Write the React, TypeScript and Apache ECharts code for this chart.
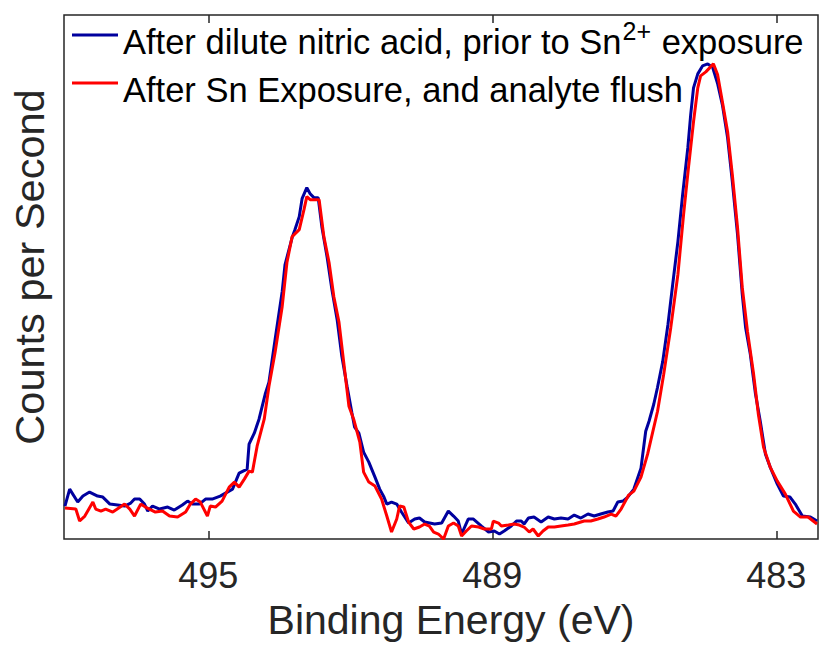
import React, { useEffect, useRef } from "react";
import * as echarts from "echarts";

const seriesNames = [
  "After dilute nitric acid, prior to Sn2+ exposure",
  "After Sn Exposure, and analyte flush",
];

const xTickValues = [483, 489, 495];

const blueEnergy = [
  498.03, 497.93, 497.76, 497.65, 497.51, 497.34, 497.23, 497.08, 496.92, 496.77,
  496.64, 496.56, 496.45, 496.35, 496.28, 496.18, 496.03, 495.86, 495.72, 495.55,
  495.44, 495.34, 495.19, 495.06, 494.92, 494.75, 494.6, 494.49, 494.35, 494.18,
  494.14, 494.03, 493.93, 493.8, 493.72, 493.59, 493.44, 493.38, 493.23, 493.17,
  493.08, 493.02, 492.92, 492.85, 492.77, 492.68, 492.6, 492.49, 492.39, 492.28,
  492.18, 492.07, 491.97, 491.91, 491.82, 491.72, 491.61, 491.48, 491.38, 491.29,
  491.23, 491.13, 491.02, 490.92, 490.77, 490.64, 490.54, 490.43, 490.22, 490.07,
  489.93, 489.82, 489.72, 489.65, 489.51, 489.4, 489.23, 489.08, 488.96, 488.85,
  488.75, 488.6, 488.49, 488.39, 488.33, 488.24, 488.12, 487.97, 487.82, 487.69,
  487.55, 487.4, 487.27, 487.13, 486.98, 486.85, 486.71, 486.56, 486.45, 486.35,
  486.24, 486.14, 486.01, 485.86, 485.76, 485.69, 485.59, 485.51, 485.4, 485.29,
  485.19, 485.08, 484.98, 484.87, 484.81, 484.75, 484.66, 484.56, 484.45, 484.35,
  484.24, 484.14, 484.03, 483.93, 483.82, 483.72, 483.65, 483.55, 483.44, 483.34,
  483.23, 483.13, 482.98, 482.85, 482.71, 482.6, 482.45, 482.28, 482.14,
];

const blueCounts = [
  660, 1000, 740, 860, 940, 860, 840, 700, 680, 660,
  720, 800, 800, 700, 560, 660, 600, 640, 580, 680,
  760, 700, 700, 800, 800, 860, 940, 1000, 1320, 1400,
  1900, 2120, 2400, 2900, 3140, 4000, 4960, 5500, 6040, 6200,
  6460, 6820, 7040, 6920, 6840, 6840, 6240, 5640, 5000, 4400,
  3660, 3060, 2540, 2240, 2120, 1740, 1540, 1240, 1000, 840,
  700, 740, 700, 540, 320, 400, 420, 340, 300, 320,
  560, 460, 360, 100, 400, 400, 260, 140, 160, 100,
  160, 260, 360, 360, 300, 420, 440, 340, 440, 400,
  420, 400, 480, 420, 500, 460, 500, 540, 560, 740,
  760, 840, 1000, 1420, 2160, 2360, 2700, 3040, 3560, 4300,
  5100, 5960, 6900, 7840, 8500, 9040, 9320, 9480, 9520, 9460,
  9120, 8700, 8040, 7160, 6100, 4900, 4240, 3700, 2900, 2360,
  1700, 1440, 1100, 860, 840, 700, 460, 440, 360,
];

const redEnergy = [
  498.03, 497.8, 497.72, 497.61, 497.44, 497.38, 497.27, 497.17, 497.02, 496.77,
  496.66, 496.56, 496.43, 496.33, 496.12, 495.97, 495.82, 495.65, 495.48, 495.38,
  495.27, 495.17, 495.02, 494.96, 494.85, 494.71, 494.56, 494.45, 494.35, 494.24,
  494.14, 494.07, 493.97, 493.82, 493.72, 493.59, 493.44, 493.34, 493.23, 493.08,
  492.98, 492.92, 492.85, 492.75, 492.66, 492.56, 492.45, 492.35, 492.24, 492.14,
  492.03, 491.93, 491.8, 491.72, 491.61, 491.48, 491.34, 491.23, 491.13, 491.02,
  490.96, 490.87, 490.77, 490.66, 490.54, 490.43, 490.33, 490.24, 490.14, 490.03,
  489.93, 489.82, 489.72, 489.65, 489.55, 489.44, 489.29, 489.17, 489.02, 488.98,
  488.87, 488.81, 488.66, 488.54, 488.43, 488.33, 488.22, 488.14, 488.03, 487.93,
  487.82, 487.69, 487.55, 487.4, 487.27, 487.13, 487.06, 486.92, 486.77, 486.64,
  486.49, 486.39, 486.28, 486.12, 486.01, 485.86, 485.72, 485.51, 485.38, 485.23,
  485.08, 484.96, 484.85, 484.75, 484.66, 484.6, 484.49, 484.39, 484.33, 484.24,
  484.14, 484.03, 483.93, 483.82, 483.72, 483.61, 483.48, 483.38, 483.27, 483.13,
  482.98, 482.81, 482.64, 482.49, 482.33, 482.14,
];

const redCounts = [
  620, 600, 360, 460, 740, 600, 560, 600, 540, 700,
  600, 460, 700, 640, 540, 560, 460, 440, 540, 700,
  800, 740, 460, 660, 640, 760, 1040, 1140, 1040, 1200,
  1360, 1340, 1860, 2400, 3060, 3740, 4660, 5540, 6060, 6200,
  6600, 6860, 6800, 6800, 6800, 6060, 5540, 4860, 4340, 3540,
  2660, 2400, 1940, 1340, 1140, 1060, 800, 460, 140, 400,
  660, 640, 340, 200, 240, 300, 260, 140, 100, 0,
  260, 320, 260, 60, 160, 260, 240, 200, 200, 360,
  320, 260, 280, 300, 280, 240, 140, 200, 60, 160,
  240, 240, 260, 280, 300, 340, 360, 360, 400, 440,
  500, 460, 600, 880, 960, 1240, 1700, 2560, 3300, 4240,
  5300, 6500, 7500, 8360, 9040, 9280, 9360, 9460, 9520, 9300,
  8760, 8160, 7300, 6240, 5040, 4160, 3300, 2500, 1840, 1440,
  1160, 900, 560, 440, 440, 300,
];

const FONT = "'Liberation Sans', Arial, Helvetica, sans-serif";
const AXIS_COLOR = "#262626";

export default function App() {
  const ref = useRef<HTMLDivElement>(null);

  useEffect(() => {
    if (!ref.current) return;
    const chart = echarts.init(ref.current, null, { renderer: "svg" });
    const zip = (xs: number[], ys: number[]) => xs.map((x, i) => [x, ys[i]]);

    const xCommon = {
      type: "value" as const,
      min: 482.12,
      max: 498.05,
      inverse: true,
      splitLine: { show: false },
      axisLine: { show: false },
    };

    chart.setOption({
      animation: false,
      backgroundColor: "#ffffff",
      grid: {
        left: 61,
        right: 1,
        top: 15,
        bottom: 105,
        show: true,
        borderColor: AXIS_COLOR,
        borderWidth: 1.5,
        backgroundColor: "transparent",
      },
      legend: {
        orient: "vertical",
        left: 72,
        top: 11,
        padding: 0,
        itemGap: 0,
        itemWidth: 46,
        itemHeight: 3,
        icon: "rect",
        selectedMode: false,
        data: seriesNames,
        formatter: (name: string) =>
          name === seriesNames[0]
            ? "{m|After dilute nitric acid, prior to Sn}{s|2+}{m| exposure}"
            : "{m|" + name + "}",
        textStyle: {
          fontFamily: FONT,
          fontSize: 34.5,
          color: "#000",
          rich: {
            m: {
              fontFamily: FONT,
              fontSize: 34.5,
              lineHeight: 34,
              padding: [13, 0, 0, 0],
              color: "#000",
            },
            s: {
              fontFamily: FONT,
              fontSize: 25,
              lineHeight: 6,
              padding: [0, 1, 0, 1],
              verticalAlign: "top",
              color: "#000",
            },
          },
        },
      },
      xAxis: [
        {
          ...xCommon,
          position: "bottom",
          name: "Binding Energy (eV)",
          nameLocation: "middle",
          nameGap: 60,
          nameTextStyle: {
            fontFamily: FONT,
            fontSize: 41,
            color: AXIS_COLOR,
            padding: [0, 0, 0, 20],
          },
          axisTick: {
            show: true,
            inside: true,
            length: 8,
            lineStyle: { color: AXIS_COLOR, width: 1.5 },
            customValues: xTickValues,
          },
          axisLabel: {
            show: true,
            fontFamily: FONT,
            fontSize: 36,
            color: AXIS_COLOR,
            margin: 18,
            customValues: xTickValues,
          },
        },
        {
          ...xCommon,
          position: "top",
          axisTick: {
            show: true,
            inside: true,
            length: 8,
            lineStyle: { color: AXIS_COLOR, width: 1.5 },
            customValues: xTickValues,
          },
          axisLabel: { show: false, customValues: xTickValues },
        },
      ],
      yAxis: {
        type: "value",
        min: 0,
        max: 10500,
        name: "Counts per Second",
        nameLocation: "middle",
        nameGap: 14,
        nameTextStyle: {
          fontFamily: FONT,
          fontSize: 41.5,
          color: AXIS_COLOR,
          padding: [0, 0, 0, 20],
        },
        axisLine: { show: false },
        axisTick: { show: false },
        axisLabel: { show: false },
        splitLine: { show: false },
      },
      series: [
        {
          name: seriesNames[0],
          type: "line",
          xAxisIndex: 0,
          data: zip(blueEnergy, blueCounts),
          showSymbol: false,
          lineStyle: { color: "#00009E", width: 3 },
          itemStyle: { color: "#00009E" },
          z: 2,
        },
        {
          name: seriesNames[1],
          type: "line",
          xAxisIndex: 0,
          data: zip(redEnergy, redCounts),
          showSymbol: false,
          lineStyle: { color: "#FF0000", width: 3 },
          itemStyle: { color: "#FF0000" },
          z: 3,
        },
      ],
    });

    return () => chart.dispose();
  }, []);

  return (
    <div
      ref={ref}
      style={{ position: "absolute", left: 0, top: 0, width: 819, height: 645 }}
    />
  );
}
